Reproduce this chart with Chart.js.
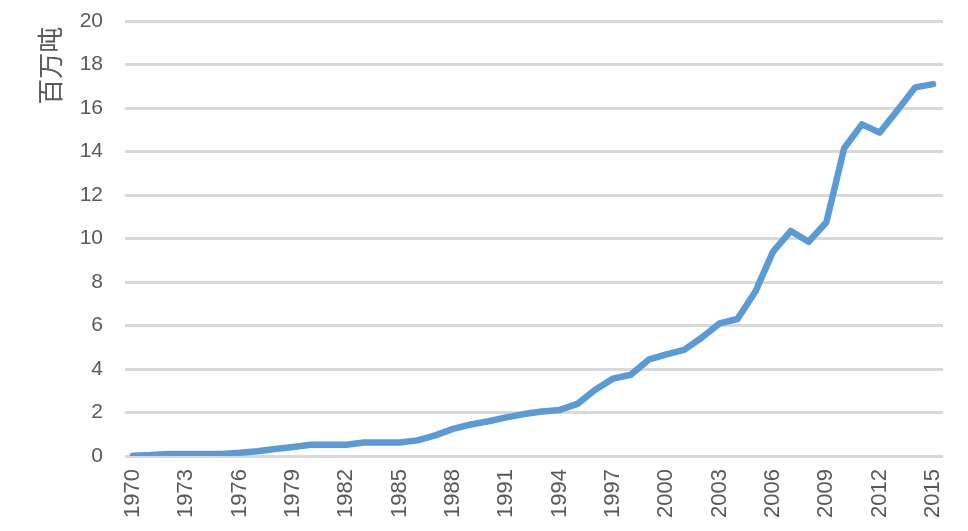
<!DOCTYPE html>
<html>
<head>
<meta charset="utf-8">
<script src="https://cdn.jsdelivr.net/npm/chart.js@4"></script>
<style>
  body { margin: 0; background: #fff; }
  #wrap { width: 968px; height: 531px; }
</style>
</head>
<body>
<div id="wrap"><canvas id="myChart"></canvas></div>
<script>
// data
var years = [];
for (var y = 1970; y <= 2015; y++) years.push(y);
var values = [0.02, 0.05, 0.1, 0.1, 0.1, 0.1, 0.15, 0.22, 0.32, 0.42,
              0.52, 0.52, 0.52, 0.62, 0.62, 0.62, 0.72, 0.95, 1.25, 1.45,
              1.6, 1.78, 1.93, 2.05, 2.12, 2.4, 3.05, 3.56, 3.74, 4.43,
              4.67, 4.88, 5.45, 6.1, 6.3, 7.55, 9.4, 10.35, 9.85, 10.75,
              14.15, 15.25, 14.87, 15.9, 16.95, 17.1];
var xTickLabels = [1970, 1973, 1976, 1979, 1982, 1985, 1988, 1991, 1994, 1997, 2000, 2003, 2006, 2009, 2012, 2015];
var yTicks = [0, 2, 4, 6, 8, 10, 12, 14, 16, 18, 20];
var yTitle = '百万吨 ';

var points = years.map(function(yr, i){ return {x: yr, y: values[i]}; });

var ctx = document.getElementById('myChart').getContext('2d');
var myChart = new Chart(ctx, {
  type: 'line',
  data: {
    datasets: [{
      data: points,
      borderColor: '#5B9BD5',
      borderWidth: 6.5,
      pointRadius: 0,
      tension: 0,
      borderCapStyle: 'round',
      borderJoinStyle: 'round',
      fill: false
    }]
  },
  options: {
    responsive: true,
    maintainAspectRatio: false,
    animation: false,
    layout: { padding: { top: 21, right: 25, bottom: 0, left: 0 } },
    plugins: { legend: { display: false }, tooltip: { enabled: false } },
    scales: {
      x: {
        type: 'linear',
        min: 1969.55,
        max: 2015.56,
        grid: { display: false, drawTicks: false },
        border: { display: false },
        afterBuildTicks: function(axis){
          axis.ticks = xTickLabels.map(function(v){ return {value: v}; });
        },
        afterFit: function(axis){ axis.paddingLeft = 0; axis.paddingRight = 0; },
        ticks: {
          autoSkip: false,
          minRotation: 90,
          maxRotation: 90,
          padding: 13,
          color: '#595959',
          font: { family: 'Liberation Sans', size: 22 },
          callback: function(v){ return String(v); }
        }
      },
      y: {
        min: 0,
        max: 20,
        afterBuildTicks: function(axis){
          axis.ticks = yTicks.map(function(v){ return {value: v}; });
        },
        afterFit: function(axis){ axis.width = 125; axis.paddingTop = 0; axis.paddingBottom = 0; },
        grid: { color: '#D9D9D9', lineWidth: 3, drawTicks: false },
        border: { display: false },
        ticks: {
          padding: 22,
          color: '#595959',
          font: { family: 'Liberation Sans', size: 21 }
        },
        title: {
          display: true,
          text: yTitle,
          align: 'end',
          color: '#595959',
          padding: { top: 35, bottom: 0 },
          font: { family: 'Noto Sans CJK SC', size: 26 }
        }
      }
    }
  }
});
</script>
</body>
</html>
